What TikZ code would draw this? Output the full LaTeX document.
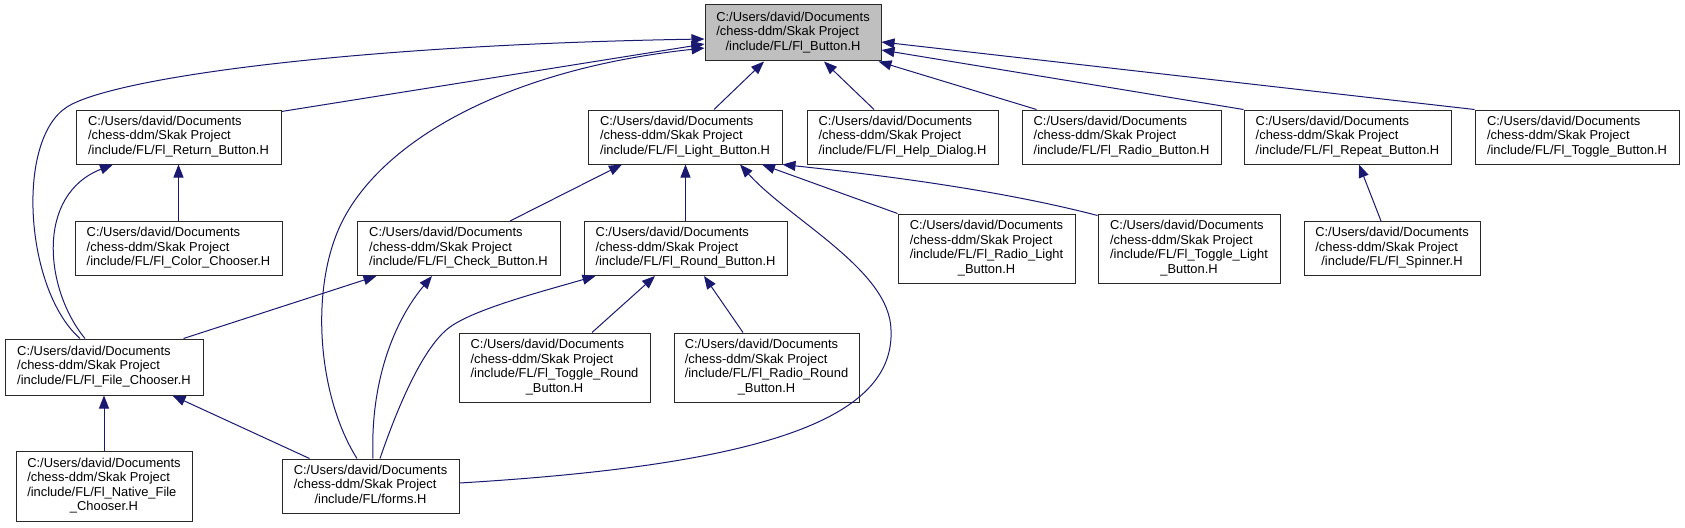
\documentclass[tikz,border=0pt]{standalone}
\usepackage{fontspec}
\setmainfont{Liberation Sans}
\usetikzlibrary{arrows.meta,calc}
\definecolor{EdgeNavy}{RGB}{25,25,112}
\definecolor{RootGrey}{RGB}{191,191,191}
\definecolor{Frame}{RGB}{40,40,40}
\newcommand{\hpath}[1]{\begin{tabular}{@{}l@{}}C:/Users/david/Documents\\/chess-ddm/Skak Project\\#1\end{tabular}}
\newcommand{\midln}[1]{\multicolumn{1}{@{}c@{}}{#1}}
\tikzset{
  >={Triangle[length=13pt,width=10pt]},
  hdr/.style={draw=Frame,line width=1pt,fill=white,inner sep=0pt,font=\fontsize{12.9}{14.5}\selectfont,minimum height=54pt},
  hdr4/.style={hdr,minimum height=69pt},
  root/.style={hdr,fill=RootGrey,minimum height=56pt},
  incl/.style={->,draw=EdgeNavy,line width=1pt}
}

\begin{document}
\begin{tikzpicture}[x=1pt,y=-1pt]
  \path[use as bounding box,fill=white] (0,0) rectangle (1685,527);
  % headers
  \node[root,minimum width=176pt] (btn) at (793,33) {\hpath{\midln{/include/FL/Fl\_Button.H}}};
  \node[hdr,minimum width=205pt] (ret) at (178.5,137) {\hpath{/include/FL/Fl\_Return\_Button.H}};
  \node[hdr,minimum width=194pt] (lgt) at (685,137) {\hpath{/include/FL/Fl\_Light\_Button.H}};
  \node[hdr,minimum width=191pt] (hlp) at (902.5,137) {\hpath{/include/FL/Fl\_Help\_Dialog.H}};
  \node[hdr,minimum width=199pt] (rad) at (1121.5,137) {\hpath{/include/FL/Fl\_Radio\_Button.H}};
  \node[hdr,minimum width=207pt] (rep) at (1347.5,137) {\hpath{/include/FL/Fl\_Repeat\_Button.H}};
  \node[hdr,minimum width=204pt] (tgl) at (1577,137) {\hpath{/include/FL/Fl\_Toggle\_Button.H}};
  \node[hdr,minimum width=207pt] (col) at (178.5,248.5) {\hpath{/include/FL/Fl\_Color\_Chooser.H}};
  \node[hdr,minimum width=203pt] (chk) at (458.5,248.5) {\hpath{/include/FL/Fl\_Check\_Button.H}};
  \node[hdr,minimum width=203pt] (rnd) at (685.5,248.5) {\hpath{/include/FL/Fl\_Round\_Button.H}};
  \node[hdr4,minimum width=177pt] (rlt) at (986.5,248.5) {\hpath{/include/FL/Fl\_Radio\_Light\\\midln{\_Button.H}}};
  \node[hdr4,minimum width=182pt] (tlt) at (1189,248.5) {\hpath{/include/FL/Fl\_Toggle\_Light\\\midln{\_Button.H}}};
  \node[hdr,minimum width=176pt] (spn) at (1392,248.5) {\hpath{\midln{/include/FL/Fl\_Spinner.H}}};
  \node[hdr,minimum width=198pt,minimum height=56pt] (fch) at (104,367) {\hpath{/include/FL/Fl\_File\_Chooser.H}};
  \node[hdr4,minimum width=191pt] (trd) at (554.5,367.5) {\hpath{/include/FL/Fl\_Toggle\_Round\\\midln{\_Button.H}}};
  \node[hdr4,minimum width=185pt] (rrd) at (766.5,367.5) {\hpath{/include/FL/Fl\_Radio\_Round\\\midln{\_Button.H}}};
  \node[hdr4,minimum width=176pt,minimum height=70pt] (nfc) at (104,486) {\hpath{/include/FL/Fl\_Native\_File\\\midln{\_Chooser.H}}};
  \node[hdr,minimum width=177pt] (frm) at (370.5,486) {\hpath{\midln{/include/FL/forms.H}}};
  % includes
  \draw[incl] ($(fch.north)+(-24,0)$) .. controls (25,290) and (15,140) .. (67,107) .. controls (112,78) and (350,45) .. ($(btn.west)+(0,6)$);
  \draw[incl] ($(ret.north east)+(0,2)$) -- ($(btn.west)+(0,11)$);
  \draw[incl] ($(frm.north)+(-13.5,0)$) .. controls (320,400) and (310,300) .. (337,233) .. controls (372,146) and (500,70) .. ($(btn.west)+(0,15)$);
  \draw[incl] ($(lgt.north)+(29,0)$) -- ($(btn.south)+(-29,0)$);
  \draw[incl] ($(hlp.north)+(-28.5,0)$) -- ($(btn.south)+(31,0)$);
  \draw[incl] ($(rad.north west)+(15,0)$) -- ($(btn.south east)+(-3,0)$);
  \draw[incl] (rep.north west) -- ($(btn.east)+(0,17)$);
  \draw[incl] (tgl.north west) -- ($(btn.east)+(0,9)$);
  \draw[incl] (col.north) -- (ret.south);
  \draw[incl] ($(fch.north)+(-19,0)$) .. controls (45,290) and (35,195) .. ($(ret.south)+(-65.5,0)$);
  \draw[incl] ($(chk.north)+(51.5,0)$) -- ($(lgt.south)+(-63,0)$);
  \draw[incl] (rnd.north) -- (rnd.north |- lgt.south);
  \draw[incl] ($(frm.east)+(0,-3)$) .. controls (760,465) and (895,420) .. (891,330) .. controls (890,270) and (790,220) .. ($(lgt.south)+(55,0)$);
  \draw[incl] (rlt.north west) -- ($(lgt.south)+(77,0)$);
  \draw[incl] ($(tlt.north west)+(0,2)$) .. controls (1000,190) and (880,175) .. (lgt.south east);
  \draw[incl] ($(fch.north east)+(-20,0)$) -- ($(chk.south west)+(20,0)$);
  \draw[incl] ($(frm.north)+(2.5,0)$) .. controls (370,380) and (395,320) .. ($(chk.south)+(-26.5,0)$);
  \draw[incl] ($(frm.north)+(9.5,0)$) .. controls (400,400) and (425,345) .. (450,327) .. controls (475,309) and (540,292) .. ($(rnd.south west)+(12,0)$);
  \draw[incl] ($(frm.north west)+(28,0)$) -- ($(fch.south east)+(-31,0)$);
  \draw[incl] (nfc.north) -- (fch.south);
  \draw[incl] ($(trd.north)+(37.5,0)$) -- ($(rnd.south)+(-30.5,0)$);
  \draw[incl] ($(rrd.north)+(-23.5,0)$) -- ($(rnd.south)+(18.5,0)$);
  \draw[incl] ($(spn.north)+(-11,0)$) -- ($(rep.south)+(11.5,0)$);
\end{tikzpicture}
\end{document}
